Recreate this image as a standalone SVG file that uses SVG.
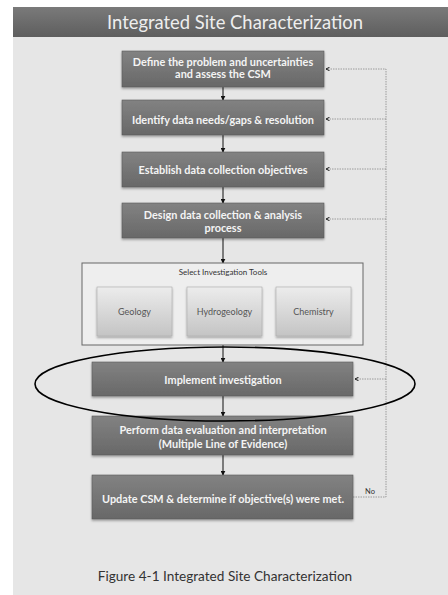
<svg xmlns="http://www.w3.org/2000/svg" width="448" height="595" viewBox="0 0 448 595">
<defs>
<linearGradient id="hdr" x1="0" y1="0" x2="0" y2="1"><stop offset="0" stop-color="#7a7a7a"/><stop offset="1" stop-color="#5e5e5e"/></linearGradient>
<linearGradient id="dk" x1="0" y1="0" x2="0" y2="1"><stop offset="0" stop-color="#828282"/><stop offset="1" stop-color="#686868"/></linearGradient>
<linearGradient id="lt" x1="0" y1="0" x2="0" y2="1"><stop offset="0" stop-color="#ececec"/><stop offset="1" stop-color="#c4c4c4"/></linearGradient>
<filter id="sh" x="-10%" y="-10%" width="120%" height="140%"><feDropShadow dx="0" dy="1.5" stdDeviation="1" flood-color="#000" flood-opacity="0.35"/></filter>
<marker id="ar" viewBox="0 0 8 8" refX="7" refY="4" markerWidth="5" markerHeight="5" orient="auto"><path d="M0,0 L8,4 L0,8 z" fill="#111"/></marker>
<marker id="ch" viewBox="0 0 8 8" refX="7" refY="4" markerWidth="6" markerHeight="6" orient="auto"><path d="M1,1 L7,4 L1,7" fill="none" stroke="#111" stroke-width="1.6"/></marker>
</defs>
<style>
.box{fill:url(#dk);stroke:#5a5a5a;stroke-width:0.6;filter:url(#sh)}
.tool{fill:url(#lt);stroke:#aaa;stroke-width:0.6;filter:url(#sh)}
.bt{font-family:Lato,"Open Sans",sans-serif;font-weight:bold;font-size:10.9px;fill:#f4f4f4;text-anchor:middle}
.tt{font-family:Lato,"Open Sans",sans-serif;font-size:9px;fill:#555;text-anchor:middle}
.conn{stroke:#111;stroke-width:1;fill:none}
.fb{stroke:#888;stroke-width:0.8;stroke-dasharray:1.5 1;fill:none}
</style>
<rect x="0" y="0" width="448" height="595" fill="#ffffff"/>
<rect x="13" y="7" width="435" height="588" fill="#e6e6e6"/>
<rect x="13" y="7" width="435" height="30" fill="url(#hdr)"/>
<text x="235" y="29" font-family="Lato,'Open Sans',sans-serif" font-size="18.4" fill="#eeeeee" text-anchor="middle">Integrated Site Characterization</text>

<g id="connectors">
<line class="conn" x1="223" y1="87" x2="223" y2="100" marker-end="url(#ar)"/>
<line class="conn" x1="223" y1="135" x2="223" y2="152" marker-end="url(#ar)"/>
<line class="conn" x1="223" y1="187" x2="223" y2="203" marker-end="url(#ar)"/>
<line class="conn" x1="223" y1="238" x2="223" y2="263" marker-end="url(#ar)"/>
<line class="conn" x1="223" y1="345" x2="223" y2="362" marker-end="url(#ar)"/>
<line class="conn" x1="223" y1="396" x2="223" y2="416" marker-end="url(#ar)"/>
<line class="conn" x1="223" y1="455" x2="223" y2="475" marker-end="url(#ar)"/>
<polyline class="fb" points="353,497 386,497 386,69 326,69" marker-end="url(#ch)"/>
<line class="fb" x1="386" y1="119" x2="326" y2="119" marker-end="url(#ch)"/>
<line class="fb" x1="386" y1="169" x2="326" y2="169" marker-end="url(#ch)"/>
<line class="fb" x1="386" y1="219" x2="326" y2="219" marker-end="url(#ch)"/>
<line class="fb" x1="386" y1="379" x2="355" y2="379" marker-end="url(#ch)"/>
<text x="370" y="494" font-family="Lato,'Open Sans',sans-serif" font-size="7.5" fill="#333" text-anchor="middle">No</text>
</g>

<g id="n1"><rect class="box" x="122" y="51" width="202" height="36"/><text class="bt" x="223" y="66">Define the problem and uncertainties</text><text class="bt" x="223" y="78">and assess the CSM</text></g>
<g id="n2"><rect class="box" x="122" y="100" width="202" height="35"/><text class="bt" x="223" y="124">Identify data needs/gaps &amp; resolution</text></g>
<g id="n3"><rect class="box" x="122" y="152" width="202" height="35"/><text class="bt" x="223" y="174">Establish data collection objectives</text></g>
<g id="n4"><rect class="box" x="122" y="203" width="202" height="35"/><text class="bt" x="223" y="219">Design data collection &amp; analysis</text><text class="bt" x="223" y="232">process</text></g>
<g id="tools">
<rect x="82" y="263" width="281" height="82" fill="#eeeeee" stroke="#666" stroke-width="1"/>
<text x="223" y="275" font-family="Lato,'Open Sans',sans-serif" font-size="8" fill="#333" text-anchor="middle">Select Investigation Tools</text>
<g id="geology"><rect class="tool" x="97" y="287" width="75" height="49"/><text class="tt" x="134.5" y="315">Geology</text></g>
<g id="hydrogeology"><rect class="tool" x="187" y="287" width="75" height="49"/><text class="tt" x="224.5" y="315">Hydrogeology</text></g>
<g id="chemistry"><rect class="tool" x="276" y="287" width="75" height="49"/><text class="tt" x="313.5" y="315">Chemistry</text></g>
</g>
<g id="n5"><rect class="box" x="92" y="362" width="261" height="34"/><text class="bt" x="223" y="384">Implement investigation</text></g>
<g id="n6"><rect class="box" x="92" y="416" width="261" height="39"/><text class="bt" x="223" y="434">Perform data evaluation and interpretation</text><text class="bt" x="223" y="448">(Multiple Line of Evidence)</text></g>
<g id="n7"><rect class="box" x="92" y="475" width="261" height="44"/><text class="bt" x="223" y="503">Update CSM &amp; determine if objective(s) were met.</text></g>
<g id="highlight"><ellipse cx="225" cy="384" rx="190" ry="37" fill="none" stroke="#000" stroke-width="1.6"/></g>
<text x="225" y="581" font-family="Lato,'Open Sans',sans-serif" font-size="13.6" fill="#333" text-anchor="middle">Figure 4-1 Integrated Site Characterization</text>
</svg>
